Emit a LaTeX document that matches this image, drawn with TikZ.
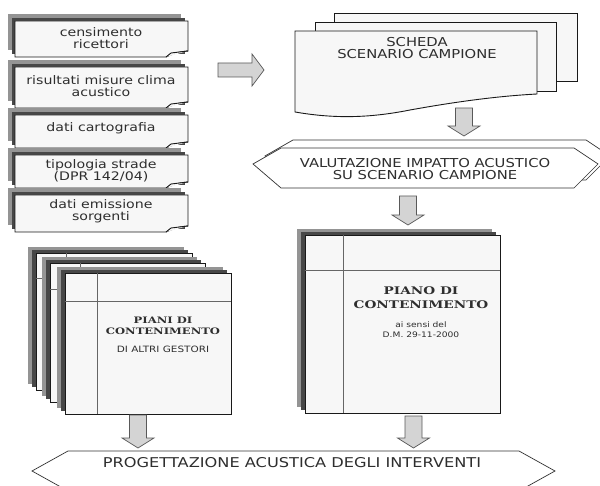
\documentclass[tikz,border=0pt]{standalone}
\usepackage{fontspec}
\setmainfont{DejaVu Sans}[FakeStretch=1.2]
\newfontfamily\slabfont{DejaVu Serif}[FakeStretch=1.3]
\usetikzlibrary{positioning}

\tikzset{
  page/.style={draw=black!90, fill=black!3, line width=0.9pt},
  rule/.style={draw=black!60, line width=0.6pt},
  shadowlight/.style={fill=black!42},
  shadowdark/.style={fill=black!72},
  blockarrow/.style={draw=black!65, fill=black!17, line width=0.7pt},
  hexa/.style={draw=black!80, fill=white, line width=0.7pt},
  txt/.style={text=black!82, align=center, inner sep=0pt},
  intext/.style={txt, font=\fontsize{11.8}{12.5}\selectfont},
  captext/.style={txt, font=\fontsize{12.3}{12.5}\selectfont},
}

% block arrow pointing down: x, top, tip
\newcommand{\downblock}[3]{%
  \draw[blockarrow] (#1-8.5,#2) -- (#1+8.5,#2) -- (#1+8.5,#3-10) -- (#1+16,#3-10)
    -- (#1,#3) -- (#1-16,#3-10) -- (#1-8.5,#3-10) -- cycle;}

\begin{document}
\begin{tikzpicture}[x=1pt, y=-1pt]
\useasboundingbox (0,0) rectangle (600,486);
\clip (0,0) rectangle (600,486);

  % input sheets
  \foreach \ta/\tb in {21/57, 67/108, 115/148, 155/188, 195/232} {
    \fill[shadowlight] (8,\ta-7) rectangle (181,\tb-7);
    \fill[shadowdark] (12,\ta-3) rectangle (185,\tb-3);
    \draw[page] (15,\ta) -- (188,\ta) -- (188,\tb-6) .. controls (178,\tb-5) .. (166,\tb) -- (15,\tb) -- cycle;
    \draw[page] (166,\tb) -- (171,\tb-4) -- (188,\tb-6);
  }
  \node[intext] (cens)   at (101,38)  {censimento\\ricettori}; %
  \node[intext] (misure) at (101,86)  {risultati misure clima\\acustico}; %
  \node[intext] (carto)  at (101,128) {dati cartografia}; %
  \node[intext] (strade) at (101,171) {tipologia strade\\(DPR 142/04)}; %
  \node[intext] (emiss)  at (101,211) {dati emissione\\sorgenti}; %

  % arrow to the sheet
  \draw[blockarrow] (218,63) -- (252,63) -- (252,54) -- (264,70) -- (252,86) -- (252,77) -- (218,77) -- cycle;

  % scheda
  \draw[page] (334,13) rectangle (577,81);
  \draw[page] (315,22) rectangle (556,91);
  \draw[page] (295,31) -- (537,31) -- (537,94) .. controls (500,96) and (460,101) .. (410,110)
    .. controls (365,119) and (330,118) .. (295,112) -- cycle;
  \node[captext] (scheda) at (417,48) {SCHEDA\\SCENARIO CAMPIONE}; %

  \downblock{464}{108}{136}

  % valutazione
  \draw[hexa] (265,156) -- (293,140) -- (586,140) -- (610,156) -- (586,180) -- (293,180) -- cycle;
  \draw[hexa] (253,164) -- (281,148) -- (574,148) -- (598,164) -- (574,188) -- (281,188) -- cycle;
  \node[captext] (valut) at (425,169) {VALUTAZIONE IMPATTO ACUSTICO\\SU SCENARIO CAMPIONE}; %

  \downblock{408}{196}{225}

  % piano di contenimento
  \foreach \xa/\ya/\wa/\ha/\va/\la in {36/253/156/137/30/25, 50/263/155/139/30/26, 65/273/166/141/32/28, 305/235/195/178/38/35} {
    \fill[shadowlight] (\xa-8,\ya-6) rectangle ++(\wa,\ha);
    \fill[shadowdark] (\xa-4,\ya-3) rectangle ++(\wa,\ha);
    \draw[page] (\xa,\ya) rectangle ++(\wa,\ha);
    \draw[rule] (\xa+\va,\ya) -- ++(0,\ha);
    \draw[rule] (\xa,\ya+\la) -- ++(\wa,0);
  }
  \node[txt, font=\fontsize{10.5}{14}\slabfont\bfseries] (piano) at (421,298) {PIANO DI\\CONTENIMENTO}; %
  \node[txt, font=\fontsize{7.6}{10}\selectfont, below=12pt of piano] (pianonote) {ai sensi del\\D.M. 29-11-2000}; %

  \node[txt, font=\fontsize{8.9}{11}\slabfont\bfseries] (altri) at (163,326) {PIANI DI\\CONTENIMENTO}; %
  \node[txt, font=\fontsize{8.7}{10}\selectfont, below=11pt of altri] (altrinote) {DI ALTRI GESTORI}; %

  \downblock{413.5}{416}{448}
  \downblock{138}{415}{448}

  % progettazione
  \draw[hexa] (32,471) -- (68,451) -- (519,451) -- (555,471) -- (519,491) -- (68,491) -- cycle;
  \node[txt, font=\fontsize{13.5}{14}\selectfont] (progett) at (292,463) {PROGETTAZIONE ACUSTICA DEGLI INTERVENTI}; %

\end{tikzpicture}
\end{document}
